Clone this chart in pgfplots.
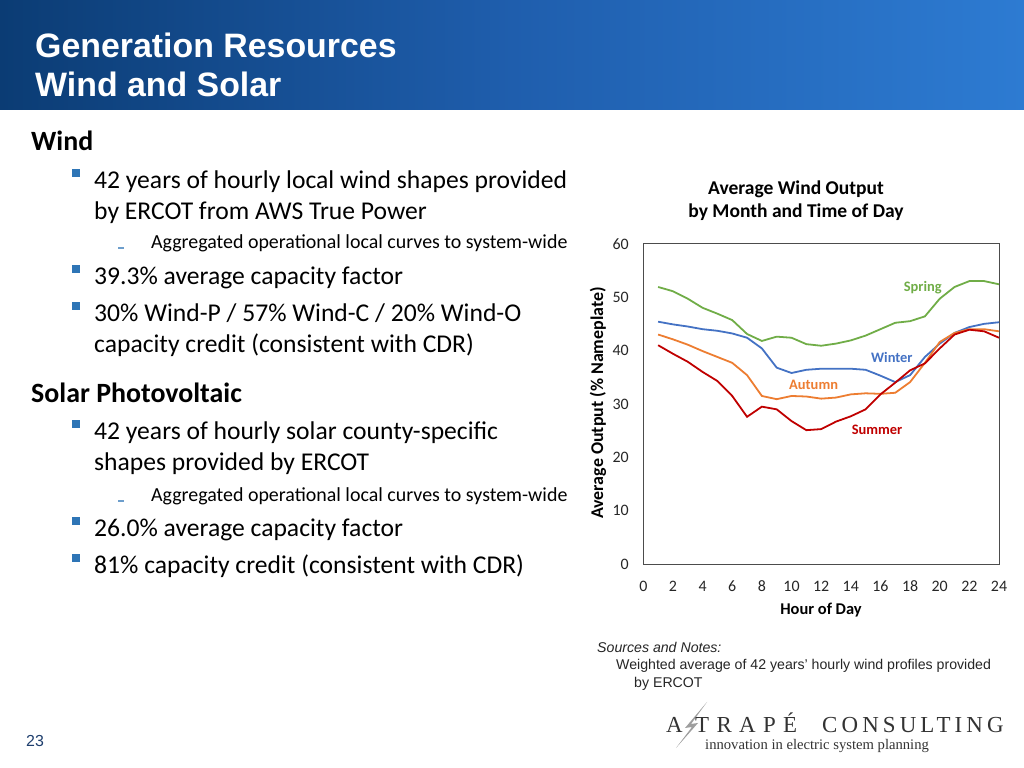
\documentclass[border=0pt]{standalone}
\usepackage{fontspec}
\setmainfont{Carlito}
\newfontfamily\arialf{Liberation Sans}
\newfontfamily\seriff{Liberation Serif}
\newfontfamily\logof[LetterSpace=18]{Liberation Serif}
\newfontfamily\logofb[LetterSpace=32]{Liberation Serif}
\usepackage{pgfplots}
\pgfplotsset{compat=1.18}
\definecolor{hdrL}{HTML}{0B3C74}
\definecolor{hdrM}{HTML}{1F5EAD}
\definecolor{hdrR}{HTML}{2D7BD2}
\definecolor{bul}{HTML}{2E75B6}
\definecolor{cSpring}{HTML}{70AD47}
\definecolor{cWinter}{HTML}{4472C4}
\definecolor{cAutumn}{HTML}{ED7D31}
\definecolor{cSummer}{HTML}{C00000}
\definecolor{pgnum}{HTML}{1F3F6E}

\pgfplotstableread{
h spring winter autumn summer
1  51.9 45.4 43.0 41.0
2  51.1 44.9 42.1 39.4
3  49.7 44.5 41.1 37.9
4  48.0 44.0 39.9 36.0
5  46.9 43.7 38.8 34.3
6  45.7 43.2 37.7 31.5
7  43.1 42.4 35.4 27.6
8  41.8 40.4 31.5 29.5
9  42.6 36.8 30.9 29.0
10 42.4 35.8 31.5 26.8
11 41.2 36.4 31.4 25.1
12 40.9 36.6 31.0 25.3
13 41.3 36.6 31.2 26.7
14 41.9 36.6 31.8 27.7
15 42.8 36.4 32.0 29.0
16 44.0 35.3 31.9 31.8
17 45.2 34.1 32.1 34.0
18 45.5 35.4 34.1 36.3
19 46.4 38.8 37.7 37.6
20 49.7 41.3 41.6 40.4
21 51.9 43.3 43.3 43.0
22 53.0 44.4 44.0 43.9
23 53.0 45.0 44.0 43.6
24 52.4 45.3 43.6 42.4
}\windtable

\newcommand{\bodyfont}{\fontsize{25.7}{30}\selectfont}
\newcommand{\subfont}{\fontsize{20}{24}\selectfont}
\newcommand{\sqbullet}[1]{\fill[bul] (72,{768-#1+12}) rectangle ++(8,8);}
\newcommand{\dashbullet}[1]{\draw[bul!70, line width=1.2pt] (118,{768-#1+1}) -- ++(6,0);}

\begin{document}
\begin{tikzpicture}[x=1bp,y=1bp]
\useasboundingbox (0,0) rectangle (1024,768);
\fill[white] (0,0) rectangle (1024,768);
% header
\shade[left color=hdrL, right color=hdrR, middle color=hdrM] (0,658) rectangle (1024,768);
\node[anchor=base west, inner sep=0, text=white, font=\arialf\bfseries\fontsize{34}{38}\selectfont] at (35,{768-58}) {Generation Resources};
\node[anchor=base west, inner sep=0, text=white, font=\arialf\bfseries\fontsize{34}{38}\selectfont] at (35,{768-97}) {Wind and Solar};

% body text
\node[anchor=base west, inner sep=0, font=\bfseries\fontsize{28}{32}\selectfont] at (31,{768-151}) {Wind};
\sqbullet{189}
\node[anchor=base west, inner sep=0, font=\bodyfont] at (94,{768-189}) {42 years of hourly local wind shapes provided};
\node[anchor=base west, inner sep=0, font=\bodyfont] at (94,{768-220}) {by ERCOT from AWS True Power};
\dashbullet{249}
\node[anchor=base west, inner sep=0, font=\subfont] at (151,{768-249}) {Aggregated operational local curves to system-wide};
\sqbullet{285}
\node[anchor=base west, inner sep=0, font=\bodyfont] at (94,{768-285}) {39.3\% average capacity factor};
\sqbullet{322}
\node[anchor=base west, inner sep=0, font=\bodyfont] at (94,{768-322}) {30\% Wind-P / 57\% Wind-C / 20\% Wind-O};
\node[anchor=base west, inner sep=0, font=\bodyfont] at (94,{768-353}) {capacity credit (consistent with CDR)};

\node[anchor=base west, inner sep=0, font=\bfseries\fontsize{28}{32}\selectfont] at (31,{768-403}) {Solar Photovoltaic};
\sqbullet{440}
\node[anchor=base west, inner sep=0, font=\bodyfont] at (94,{768-440}) {42 years of hourly solar county-specific};
\node[anchor=base west, inner sep=0, font=\bodyfont] at (94,{768-471}) {shapes provided by ERCOT};
\dashbullet{502}
\node[anchor=base west, inner sep=0, font=\subfont] at (151,{768-502}) {Aggregated operational local curves to system-wide};
\sqbullet{537}
\node[anchor=base west, inner sep=0, font=\bodyfont] at (94,{768-537}) {26.0\% average capacity factor};
\sqbullet{574}
\node[anchor=base west, inner sep=0, font=\bodyfont] at (94,{768-574}) {81\% capacity credit (consistent with CDR)};

% chart titles
\node[align=center, inner sep=0, font=\bfseries\fontsize{19.6}{23}\selectfont] at (796,{768-201}) {Average Wind Output\\by Month and Time of Day};
\node[rotate=90, inner sep=0, font=\bfseries\fontsize{18}{20}\selectfont] at (598,{768-403}) {Average Output (\% Nameplate)};
\node[inner sep=0, font=\bfseries\fontsize{16.5}{18}\selectfont] at (821,{768-610}) {Hour of Day};

\begin{axis}[
  at={(643.3bp,203.7bp)}, anchor=south west,
  scale only axis, width=355.7bp, height=320.6bp,
  xmin=0, xmax=24, ymin=0, ymax=60,
  xtick={0,2,...,24}, ytick={0,10,...,60},
  major tick length=0pt,
  axis line style={draw=black!70, line width=0.9pt},
  tick label style={font=\fontsize{16}{16}\selectfont, text=black!85},
  /pgf/number format/assume math mode=true,
  yticklabel style={xshift=-11bp},
  xticklabel style={yshift=-13bp},
  clip=false,
]
\addplot[cSpring, line width=1.8pt] table[x=h, y=spring] {\windtable};
\addplot[cWinter, line width=1.8pt] table[x=h, y=winter] {\windtable};
\addplot[cAutumn, line width=1.8pt] table[x=h, y=autumn] {\windtable};
\addplot[cSummer, line width=1.8pt] table[x=h, y=summer] {\windtable};
\node[text=cSpring, font=\bfseries\fontsize{14.5}{14}\selectfont] at (axis cs:18.86,51.8) {Spring};
\node[text=cWinter, font=\bfseries\fontsize{14.5}{14}\selectfont] at (axis cs:16.77,38.7) {Winter};
\node[text=cAutumn, font=\bfseries\fontsize{14.5}{14}\selectfont] at (axis cs:11.49,33.5) {Autumn};
\node[text=cSummer, font=\bfseries\fontsize{14.5}{14}\selectfont] at (axis cs:15.77,25.1) {Summer};
\end{axis}

% sources
\node[anchor=base west, inner sep=0, font=\arialf\itshape\fontsize{14.2}{16}\selectfont, text=black!85] at (597,{768-653}) {Sources and Notes:};
\node[anchor=base west, inner sep=0, font=\arialf\fontsize{14.2}{16}\selectfont, text=black!85] at (616,{768-670}) {Weighted average of 42 years’ hourly wind profiles provided};
\node[anchor=base west, inner sep=0, font=\arialf\fontsize{14.2}{16}\selectfont, text=black!85] at (634,{768-688}) {by ERCOT};

% logo
\node[anchor=base west, inner sep=0, font=\logof\fontsize{23}{26}\selectfont, text=black!80] at (666,{768-732.5}) {A};
\fill[black!38] (707,{768-702}) -- (685,{768-728}) -- (692,{768-727}) -- (676,{768-748}) -- (698,{768-723}) -- (691,{768-724}) -- cycle;
\node[anchor=base west, inner sep=0, font=\logofb\fontsize{23}{26}\selectfont, text=black!80] at (695,{768-732.5}) {TRAPÉ};
\node[anchor=base west, inner sep=0, font=\logof\fontsize{23}{26}\selectfont, text=black!80] at (822,{768-732.5}) {CONSULTING};
\node[anchor=base west, inner sep=0, font=\seriff\fontsize{14.7}{16}\selectfont, text=black!80] at (705,{768-750}) {innovation in electric system planning};

% page number
\node[anchor=base west, inner sep=0, font=\arialf\fontsize{16}{18}\selectfont, text=pgnum] at (26,{768-747}) {23};
\end{tikzpicture}
\end{document}
